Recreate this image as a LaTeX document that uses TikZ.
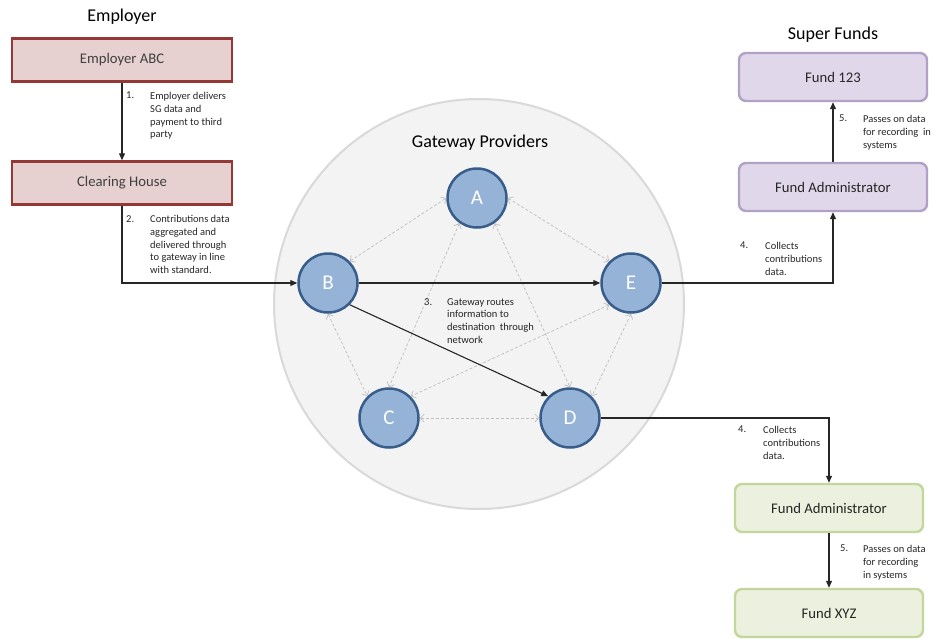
\documentclass[tikz,border=0pt]{standalone}
\usepackage{fontspec}
\setmainfont{Carlito}
\usetikzlibrary{arrows.meta}

\definecolor{empfill}{RGB}{230,208,208}
\definecolor{empline}{RGB}{149,55,53}
\definecolor{gwfill}{RGB}{243,243,243}
\definecolor{gwline}{RGB}{217,217,217}
\definecolor{nodefill}{RGB}{149,179,215}
\definecolor{nodeline}{RGB}{56,93,138}
\definecolor{supfill}{RGB}{224,216,234}
\definecolor{supline}{RGB}{178,161,199}
\definecolor{grnfill}{RGB}{235,241,222}
\definecolor{grnline}{RGB}{195,214,155}
\definecolor{boxtext}{RGB}{64,64,64}
\definecolor{meshline}{RGB}{190,190,190}

\begin{document}
\begin{tikzpicture}[x=1pt,y=1pt]
\tikzstyle{every node}+=[inner sep=0pt]
\tikzstyle{title}=[font=\fontsize{18}{20}\selectfont]
\tikzstyle{empbox}=[draw=empline, fill=empfill, line width=2.4pt, minimum width=220pt, minimum height=43pt, text=boxtext, font=\fontsize{14.7}{16}\selectfont]
\tikzstyle{supbox}=[draw=supline, fill=supfill, line width=2.4pt, rounded corners=7pt, minimum width=188pt, minimum height=48pt, text=black!85, font=\fontsize{14.7}{16}\selectfont]
\tikzstyle{grnbox}=[supbox, draw=grnline, fill=grnfill]
\tikzstyle{gw}=[circle, draw=nodeline, fill=nodefill, line width=2.5pt, minimum size=59pt, text=white, font=\fontsize{21}{23}\selectfont]
\tikzstyle{num}=[anchor=north west, text=black!85, font=\fontsize{10.5}{12.8}\selectfont]
\tikzstyle{note}=[num, align=left]
\tikzstyle{flow}=[draw=black!85, line width=1.1pt, -{Triangle[length=7pt,width=6pt]}]
\tikzstyle{mesh}=[draw=meshline, line width=0.7pt, dash pattern=on 3pt off 2pt, {Straight Barb[length=4pt,width=8pt]}-{Straight Barb[length=4pt,width=8pt]}]

\useasboundingbox (0,0) rectangle (935,-638);

% employer
\node (emptitle) [title] at (122,-17) {Employer};
\node (abc) [empbox] at (122,-60) {Employer ABC};
\node (ch) [empbox] at (122,-183) {Clearing House};
\draw [flow] (abc) -- (ch);
\node (n1) [num] at (126,-92) {1.};
\node (t1) [note] at (150,-92) {Employer delivers\\SG data and\\payment to third\\party};
\node (n2) [num] at (126,-215) {2.};
\node (t2) [note] at (150,-215) {Contributions data\\aggregated and\\delivered through\\to gateway in line\\with standard.};

% gateway network
\node (ring) [circle, draw=gwline, fill=gwfill, line width=2pt, minimum size=410pt] at (479,-304) {};
\node (gwtitle) [title] at (480,-143) {Gateway Providers};
\node (A) [gw] at (477,-198) {A};
\node (B) [gw] at (328,-283) {B};
\node (E) [gw] at (631,-283) {E};
\node (C) [gw] at (389,-418) {C};
\node (D) [gw] at (570,-418) {D};
\draw [mesh] (B.45) -- (A.west);
\draw [mesh] (A.east) -- (E.135);
\draw [mesh] (A.235) -- (C.north);
\draw [mesh] (A.305) -- (D.north);
\draw [mesh] (B.south) -- (C.135);
\draw [mesh] (E.225) -- (C.45);
\draw [mesh] (E.south) -- (D.45);
\draw [mesh] (C.east) -- (D.west);
\draw [flow] (ch.south) |- (B.west);
\draw [flow] (B.east) -- (E.west);
\draw [flow] (B.-45) -- (D.135);
\node (n3) [num] at (424,-298) {3.};
\node (t3) [note] at (447,-298) {Gateway routes\\information to\\destination\ \ through\\network};

% super funds
\node (suptitle) [title] at (833,-35) {Super Funds};
\node (f123) [supbox] at (833,-77) {Fund 123};
\node (fa1) [supbox] at (833,-187) {Fund Administrator};
\draw [flow] (E.east) -| (fa1.south);
\draw [flow] (fa1) -- (f123);
\node (n4) [num] at (740,-242) {4.};
\node (t4) [note] at (765,-242) {Collects\\contributions\\data.};
\node (n5) [num] at (839,-115) {5.};
\node (t5) [note] at (863,-115) {Passes on data\\for recording\ \ in\\systems};

\node (fa2) [grnbox] at (829,-508) {Fund Administrator};
\node (fxyz) [grnbox] at (829,-613) {Fund XYZ};
\draw [flow] (D.east) -| (fa2.north);
\draw [flow] (fa2) -- (fxyz);
\node (n6) [num] at (738,-426) {4.};
\node (t6) [note] at (763,-426) {Collects\\contributions\\data.};
\node (n7) [num] at (840,-545) {5.};
\node (t7) [note] at (863,-545) {Passes on data\\for recording\\in systems};
\end{tikzpicture}
\end{document}
